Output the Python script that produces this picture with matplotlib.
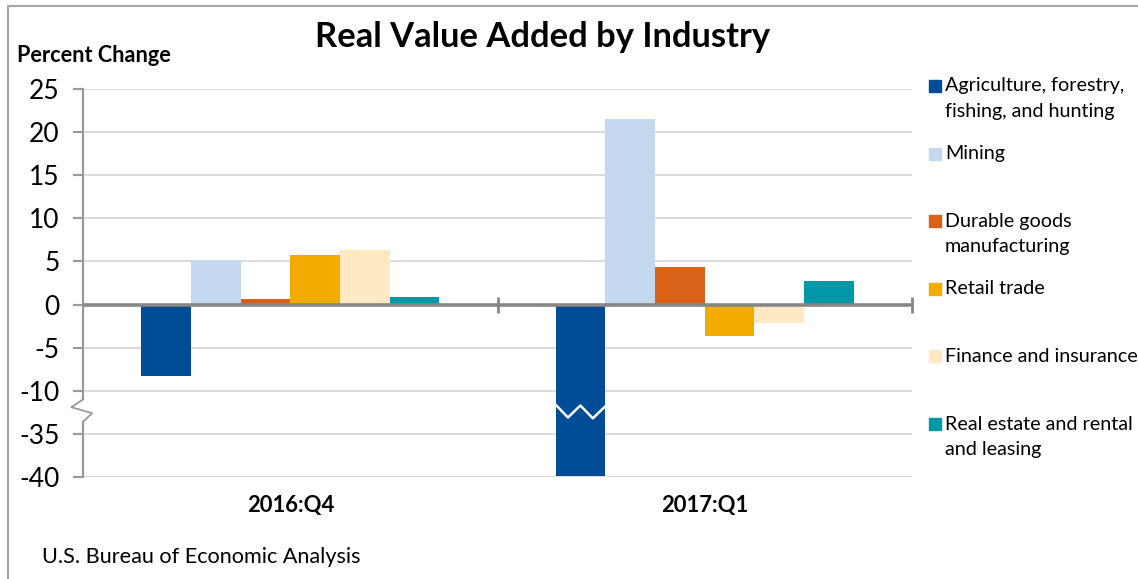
import numpy as np
import matplotlib.pyplot as plt
from matplotlib.patches import Rectangle
from matplotlib.lines import Line2D
import matplotlib.transforms as mtransforms

plt.rcParams['font.family'] = ['Lato', 'DejaVu Sans']

# Data
quarters = ['2016:Q4', '2017:Q1']
industries = ['Agriculture, forestry,\nfishing, and hunting', 'Mining',
              'Durable goods\nmanufacturing', 'Retail trade',
              'Finance and insurance', 'Real estate and rental\nand leasing']
agriculture = [-8.3, -39.9]
mining = [5.2, 21.5]
durable = [0.7, 4.4]
retail = [5.7, -3.6]
finance = [6.3, -2.1]
real_estate = [0.9, 2.7]
colors = ['#004C97', '#C3D7EE', '#DA6118', '#F2AC00', '#FFE8C4', '#0097A7']

yticks = [25, 20, 15, 10, 5, 0, -5, -10, -35, -40]
BREAK = 20  # values below -10 are shifted up by this much (axis break)


def to_disp(v):
    return v + BREAK if v < -10 else v


W, H = 1138, 579
fig = plt.figure(figsize=(W / 100, H / 100), dpi=100)
ax = fig.add_axes([83 / W, 1 - 477 / H, (912 - 83) / W, (477 - 89) / H])

series = [agriculture, mining, durable, retail, finance, real_estate]
x = np.arange(len(quarters))
bw = 0.12
for i, (vals, c) in enumerate(zip(series, colors)):
    ax.bar(x + (i - 2.5) * bw, [to_disp(v) for v in vals], bw, color=c, zorder=2)

ax.set_xlim(-0.5, 1.5)
ax.set_ylim(to_disp(-40), 25)

# gridlines
disp_ticks = [to_disp(t) for t in yticks]
for t in disp_ticks:
    if t != 0:
        ax.axhline(t, color='#D9D9D9', lw=1.3, zorder=0)
ax.axhline(0, color='#868686', lw=2.6, zorder=3)

for s in ax.spines.values():
    s.set_visible(False)

ax.set_yticks(disp_ticks)
ax.set_yticklabels([str(t) for t in yticks], fontsize=19)
ax.tick_params(axis='y', length=7, width=1.5, color='#999999', pad=10)
ax.set_xticks(x)
ax.set_xticklabels(quarters, fontsize=15.8, fontweight='bold')
ax.tick_params(axis='x', length=0, pad=13)

# y axis line with break
tr = mtransforms.blended_transform_factory(ax.transAxes, ax.transData)
ax.add_line(Line2D([0, 0], [25, -11.0], transform=tr, color='#999999', lw=1.6, clip_on=False))
ax.add_line(Line2D([0, 0], [-13.6, -20], transform=tr, color='#999999', lw=1.6, clip_on=False))
ax.add_line(Line2D([0, -0.014, 0.011, 0], [-11.0, -11.9, -12.6, -13.6], transform=tr,
                   color='#999999', lw=1.3, clip_on=False))

# x category ticks
ax.plot([0.5, 1.5], [0, 0], ls='none', marker='|', ms=11, mew=2, color='#868686',
        zorder=3, clip_on=False)

# zigzag on the broken bar
bx0 = 1 + (0 - 2.5) * bw - bw / 2
zx = bx0 + np.linspace(0, bw, 5)
zy = [-11.6, -13.1, -11.7, -13.2, -11.8]
ax.plot(zx, zy, color='white', lw=1.8, zorder=4)

# titles
fig.text(543 / W, 1 - 37 / H, 'Real Value Added by Industry', ha='center', va='center',
         fontsize=24.8, fontweight='bold')
fig.text(17 / W, 1 - 55 / H, 'Percent Change', ha='left', va='center',
         fontsize=15.6, fontweight='bold')
fig.text(42 / W, 1 - 557 / H, 'U.S. Bureau of Economic Analysis', ha='left', va='center',
         fontsize=15.6)

# legend
for i, (lab, c) in enumerate(zip(industries, colors)):
    yc = 86 + i * 67.6
    fig.patches.append(Rectangle((929 / W, 1 - (yc + 6) / H), 12 / W, 12 / H,
                                 transform=fig.transFigure, color=c))
    for j, line in enumerate(lab.split('\n')):
        fig.text(945 / W, 1 - (yc + j * 25) / H, line, ha='left', va='center',
                 fontsize=14.2)

# chart border
fig.add_artist(Line2D([8 / W, 1], [1 - 6 / H, 1 - 6 / H], color='#A6A6A6', lw=1.5))
fig.add_artist(Line2D([8 / W, 8 / W], [0, 1 - 6 / H], color='#A6A6A6', lw=1.5))

fig.savefig('out.png', dpi=100)
